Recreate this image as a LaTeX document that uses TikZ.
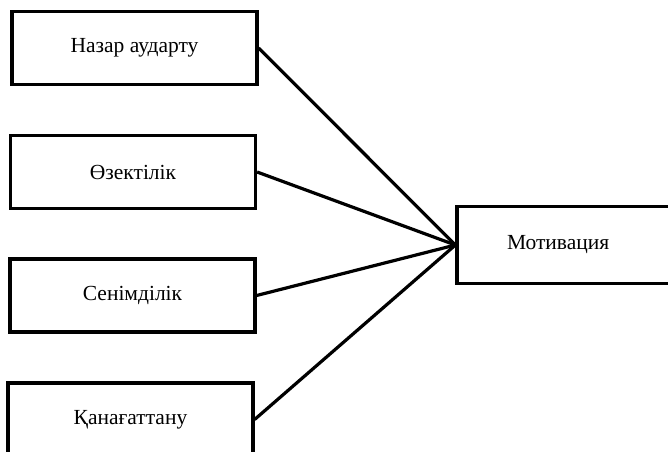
\documentclass[tikz,border=0pt]{standalone}
\usepackage{fontspec}
\setmainfont{Liberation Serif}
\usetikzlibrary{positioning,calc}

\begin{document}
\begin{tikzpicture}[
    x=1pt, y=-1pt,
    box/.style={draw, minimum width=245pt, minimum height=73pt, align=center, font=\fontsize{21.5}{25}\selectfont, line width=3.2pt},
    link/.style={line width=3.2pt}
]
    \useasboundingbox (0,0) rectangle (668,451);
    \clip (0,0) rectangle (668,451);

    \node[box] (attn) at (134.5,48) {Назар аударту};
    \node[box] (relev) at (133,172) {Өзектілік};
    \node[box] (conf) at (132.5,295.5) {Сенімділік};
    \node[box] (satis) at (130.5,419.5) {Қанағаттану};

    \node[box, minimum width=0pt, text width=163pt, inner xsep=50pt, align=left, minimum height=77pt] (motiv) at (588.5,245) {Мотивация};

    \draw[link] (attn.east) -- (motiv.west);
    \draw[link] (relev.east) -- (motiv.west);
    \draw[link] (conf.east) -- (motiv.west);
    \draw[link] (satis.east) -- (motiv.west);
\end{tikzpicture}
\end{document}
